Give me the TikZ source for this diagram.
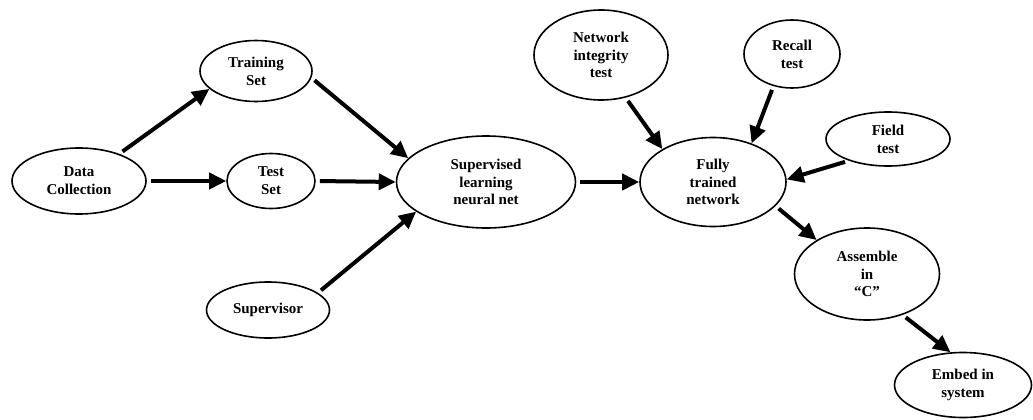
\documentclass[tikz,border=0pt]{standalone}
\usepackage{fontspec}
\setmainfont{Liberation Serif}
\usetikzlibrary{shapes.geometric}
\usetikzlibrary{arrows.meta}
\tikzset{>={Triangle[width=16pt,length=17pt]}}

\begin{document}
\begin{tikzpicture}[x=1pt,y=-1pt,
  blob/.style={draw,ellipse,line width=1.6pt,inner sep=0pt,align=center,
    font=\fontsize{15}{17.8}\selectfont\bfseries},
  arr/.style={->,line width=4pt,shorten <=4pt}]

  \useasboundingbox (0,0) rectangle (1033,420);

  %% left column
  \node[blob,minimum width=134pt,minimum height=66pt] (dc) at (79,181) {Data\\Collection};
  \node[blob,minimum width=112pt,minimum height=61pt] (train) at (256,71) {Training\\Set};
  \node[blob,minimum width=88pt,minimum height=55pt] (test) at (271,181) {Test\\Set};
  \node[blob,minimum width=123pt,minimum height=56pt] (sup) at (268,310) {Supervisor};

  %% middle
  \node[blob,minimum width=179pt,minimum height=92pt] (nn) at (486,182)
  {Supervised\\learning\\neural net};
  \node[blob,minimum width=146pt,minimum height=89pt] (ftn) at (713,182)
  {Fully\\trained\\network};

  %% tests
  \node[blob,minimum width=134pt,minimum height=90pt] (nit) at (601,55)
  {Network\\integrity\\test};
  \node[blob,minimum width=96pt,minimum height=68pt] (recall) at (792,54) {Recall\\test};
  \node[blob,minimum width=124pt,minimum height=54pt] (field) at (888,139) {Field\\test};

  %% output chain
  \node[blob,minimum width=145pt,minimum height=92pt] (asm) at (867,274)
  {Assemble\\in\\“C”};
  \node[blob,minimum width=137pt,minimum height=65pt] (embed) at (963,385)
  {Embed in\\system};

  \draw[arr] (dc.34) -- (train.201);   %% dc -> train
  \draw[arr] (dc.0) -- (test.180);     %% dc -> test
  \draw[arr] (train.353) -- (nn.163);  %% train -> nn
  \draw[arr] (test.0) -- (nn.180);     %% test -> nn
  \draw[arr] (sup.19) -- (nn.203);     %% sup -> nn
  \draw[arr] (nn.0) -- (ftn.180);      %% nn -> ftn

  \draw[arr] (nit.300) -- (ftn.147);   %% nit -> ftn
  \draw[arr] (recall.240) -- (ftn.45); %% recall -> ftn
  \draw[arr] (field.209) -- (ftn.2);   %% field -> ftn

  \draw[arr] (ftn.339) -- (asm.146);   %% ftn -> asm
  \draw[arr] (asm.311) -- (embed.111); %% asm -> embed

\end{tikzpicture}
\end{document}
